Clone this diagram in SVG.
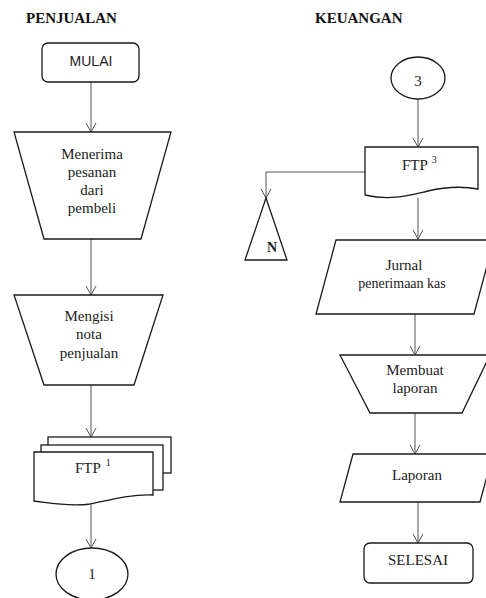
<svg xmlns="http://www.w3.org/2000/svg" width="486" height="598" viewBox="0 0 486 598">
<style>
.s{fill:#fff;stroke:#1a1a1a;stroke-width:1.3}
.c{fill:none;stroke:#555;stroke-width:1}
.t{font-family:"Liberation Serif","Times New Roman",serif;font-size:15px;fill:#222;text-anchor:middle}
.h{font-family:"Liberation Serif","Times New Roman",serif;font-size:15px;font-weight:bold;fill:#111}
.sup{font-size:10px}
</style>
<defs>
<marker id="a" markerWidth="12" markerHeight="12" refX="10" refY="6" orient="auto" markerUnits="userSpaceOnUse">
<path d="M1,1 L10,6 L1,11" fill="none" stroke="#555" stroke-width="1"/>
</marker>
</defs>
<rect width="486" height="598" fill="#fff"/>
<text class="h" x="26" y="23">PENJUALAN</text>
<text class="h" x="315" y="23">KEUANGAN</text>

<g id="connectors">
<line class="c" x1="91" y1="82" x2="91" y2="132" marker-end="url(#a)"/>
<line class="c" x1="91" y1="239" x2="91" y2="295" marker-end="url(#a)"/>
<line class="c" x1="91" y1="385" x2="91" y2="437" marker-end="url(#a)"/>
<line class="c" x1="91" y1="505" x2="91" y2="548" marker-end="url(#a)"/>
<line class="c" x1="418" y1="99" x2="418" y2="147" marker-end="url(#a)"/>
<polyline class="c" points="365,172 266,172 266,198" marker-end="url(#a)"/>
<line class="c" x1="418" y1="198" x2="418" y2="239" marker-end="url(#a)"/>
<line class="c" x1="415" y1="314" x2="415" y2="355" marker-end="url(#a)"/>
<line class="c" x1="415" y1="413" x2="415" y2="454" marker-end="url(#a)"/>
<line class="c" x1="418" y1="502" x2="418" y2="543" marker-end="url(#a)"/>
</g>

<g id="mulai">
<rect class="s" x="42" y="43" width="97" height="39" rx="6"/>
<text x="91" y="66" style="font-family:'Liberation Sans',Arial,sans-serif;font-size:14px;fill:#222;text-anchor:middle">MULAI</text>
</g>

<g id="menerima">
<polygon class="s" points="14,132 171,132 141,239 44,239"/>
<text class="t" x="92" y="159">Menerima</text>
<text class="t" x="92" y="177">pesanan</text>
<text class="t" x="92" y="195">dari</text>
<text class="t" x="92" y="213">pembeli</text>
</g>

<g id="mengisi">
<polygon class="s" points="14,295 163,295 134,385 44,385"/>
<text class="t" x="89" y="321">Mengisi</text>
<text class="t" x="89" y="339">nota</text>
<text class="t" x="89" y="358">penjualan</text>
</g>

<g id="ftp1">
<rect class="s" x="48" y="437" width="123" height="36"/>
<rect class="s" x="41" y="445" width="122" height="45"/>
<path class="s" d="M34,452 H153 V495 C130,494 110,500 90,504 C70,507 50,503 34,501 Z"/>
<text class="t" x="75" y="473" style="text-anchor:start">FTP<tspan class="sup" dx="5" dy="-7">1</tspan></text>
</g>

<g id="konektor1">
<ellipse class="s" cx="92" cy="574" rx="36" ry="26"/>
<text class="t" x="92" y="579">1</text>
</g>

<g id="konektor3">
<ellipse class="s" cx="418" cy="78" rx="27" ry="21"/>
<text class="t" x="418" y="86">3</text>
</g>

<g id="ftp3">
<path class="s" d="M365,147 H478 V189 C462,186 445,187 428,191 C410,195 392,201 365,195 Z"/>
<text class="t" x="402" y="170" style="text-anchor:start">FTP<tspan class="sup" dx="4" dy="-7">3</tspan></text>
</g>

<g id="arsipN">
<polygon class="s" points="266,198 287,260 245,260"/>
<text class="t" x="272" y="252" style="font-weight:bold;font-size:14px">N</text>
</g>

<g id="jurnal">
<polygon class="s" points="336,240 494,240 474,314 316,314"/>
<text class="t" x="404" y="270">Jurnal</text>
<text class="t" x="402" y="288" style="font-size:14px">penerimaan kas</text>
</g>

<g id="membuat">
<polygon class="s" points="340,355 490,355 462,413 370,413"/>
<text class="t" x="415" y="375">Membuat</text>
<text class="t" x="415" y="393">laporan</text>
</g>

<g id="laporan">
<polygon class="s" points="353,454 493,454 480,502 340,502"/>
<text class="t" x="417" y="480">Laporan</text>
</g>

<g id="selesai">
<rect class="s" x="364" y="543" width="109" height="40" rx="6"/>
<text class="t" x="418" y="565">SELESAI</text>
</g>
</svg>
